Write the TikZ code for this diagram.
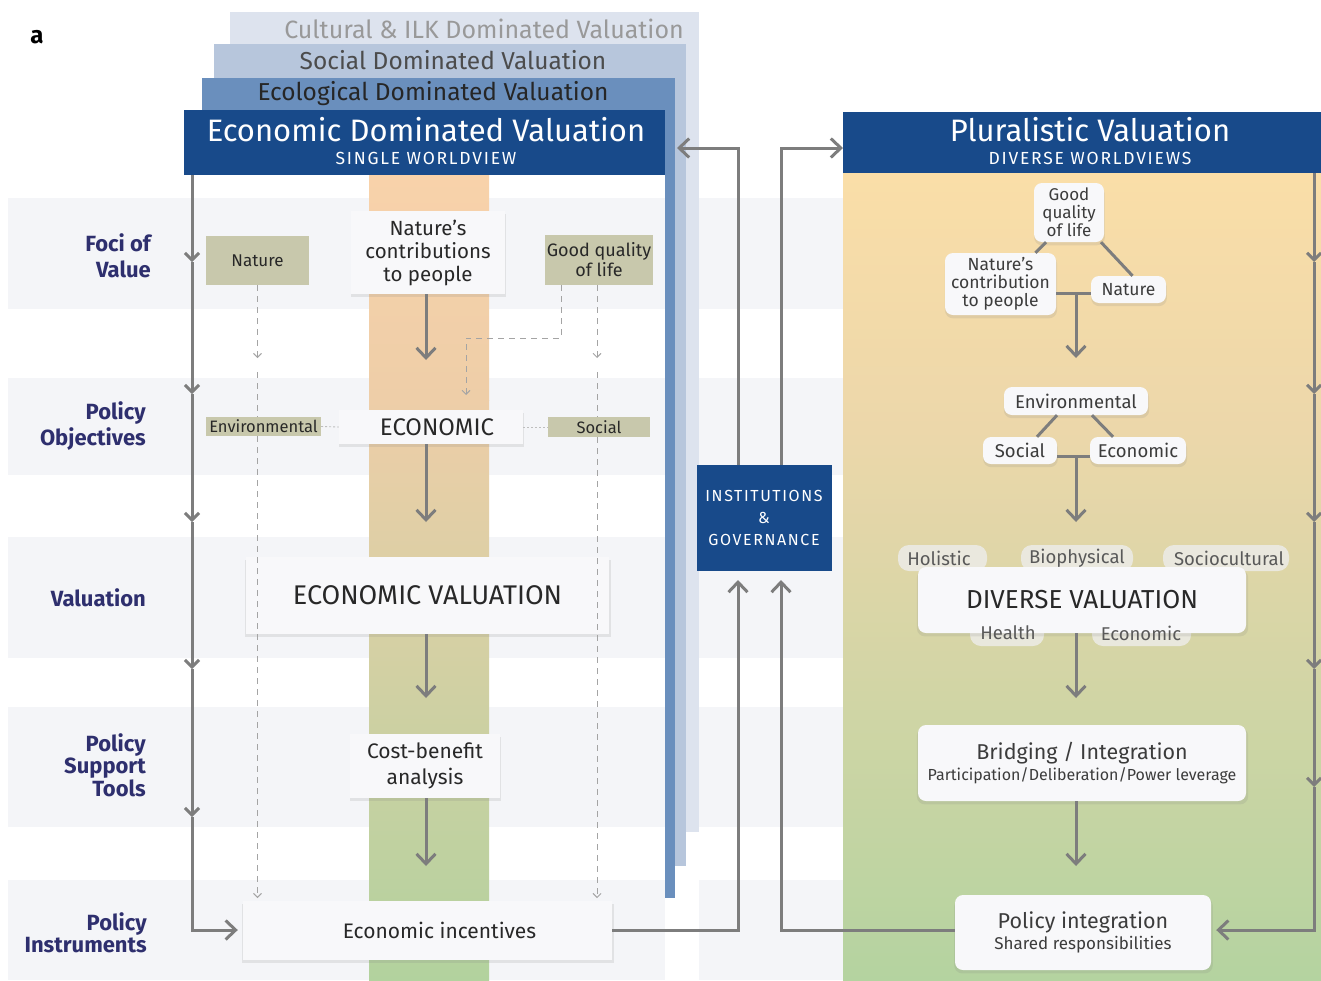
\documentclass[tikz,border=0pt]{standalone}
\usepackage{fontspec}
\setmainfont{Fira Sans}
\newfontfamily\spfont[LetterSpace=10]{Fira Sans}
\usetikzlibrary{arrows.meta,shadows}
\definecolor{navy}{RGB}{24,74,138}
\definecolor{ecostripe}{RGB}{106,143,189}
\definecolor{socstripe}{RGB}{183,198,220}
\definecolor{culstripe}{RGB}{221,227,238}
\definecolor{lgray}{RGB}{125,125,125}
\definecolor{khaki}{RGB}{200,200,172}
\definecolor{labnavy}{RGB}{46,47,110}
\definecolor{band}{RGB}{244,245,248}
\definecolor{boxwhite}{RGB}{248,248,250}
\definecolor{txt}{RGB}{40,40,40}
\definecolor{rtxt}{RGB}{60,60,60}
\definecolor{orangetop}{RGB}{248,210,170}
\definecolor{orangemid}{RGB}{238,206,168}
\definecolor{beige}{RGB}{212,206,172}
\definecolor{greenbot}{RGB}{178,210,158}
\definecolor{ytop}{RGB}{250,222,168}
\definecolor{ymid}{RGB}{236,215,170}
\definecolor{gmid}{RGB}{208,211,172}
\definecolor{gbot}{RGB}{180,211,160}
\definecolor{pillfill}{RGB}{236,235,228}
\newcommand{\fsz}[2]{\fontsize{#1}{#2}\selectfont}
\begin{document}
\begin{tikzpicture}[x=1pt,y=-1pt,
  wbox/.style={fill=boxwhite, inner sep=0pt, align=center, text=txt,
    drop shadow={opacity=0.16, shadow xshift=0.5pt, shadow yshift=-3pt, shadow scale=1.01}},
  kbox/.style={fill=khaki, inner sep=0pt, align=center, text=txt},
  rbox/.style={wbox, rounded corners=8pt, text=rtxt},
  pilltxt/.style={inner sep=0pt, text=rtxt!85!white, font=\fsz{18.5}{20}},
  conn/.style={draw=lgray, line width=3pt},
  dsh/.style={draw=lgray!70, line width=0.9pt, dash pattern=on 6pt off 5pt},
  dot/.style={draw=lgray!50, line width=0.9pt, dash pattern=on 2pt off 2pt},
  bigtip/.tip={Straight Barb[length=10pt,width=19pt]},
  edgetip/.tip={Straight Barb[length=7pt,width=14pt]},
  smalltip/.tip={Straight Barb[length=4pt,width=8pt]},
  lab/.style={align=right, anchor=east, text=labnavy, inner sep=0pt, font=\bfseries\fsz{22}{26}}
]
\useasboundingbox (0,0) rectangle (1321,980);
\fill[white] (0,0) rectangle (1321,980);

% stacked valuations
\fill[culstripe] (230,12) rectangle (699,832);
\fill[socstripe] (214,44) rectangle (686,866);
\fill[ecostripe] (202,78) rectangle (675,898);
\fill[navy] (184,110) rectangle (665,175);
\fill[white] (184,175) rectangle (665,980);

% bands
\foreach \a/\b in {198/309, 378/475, 537/658, 707/827, 880/980}{
  \fill[band] (8,\a) rectangle (665,\b);
  \fill[band] (699,\a) rectangle (843,\b);
}

% centre column
\shade[top color=orangetop, bottom color=orangemid] (369,175) rectangle (489,400);
\shade[top color=orangemid, middle color=beige, bottom color=greenbot] (369,400) rectangle (489,980);

% right panel
\shade[top color=ytop, bottom color=ymid] (843,173) rectangle (1321,430);
\shade[top color=ymid, middle color=gmid, bottom color=gbot] (843,430) rectangle (1321,980);
\fill[navy] (843,112) rectangle (1321,173);

% header texts
\node[text=black!40, inner sep=0pt, font=\fsz{25}{28}] (tCul) at (484,29) {Cultural \& ILK Dominated Valuation};
\node[text=black!70, inner sep=0pt, font=\fsz{24.5}{28}] (tSoc) at (453,60) {Social Dominated Valuation};
\node[text=black!85, inner sep=0pt, font=\fsz{24.5}{28}] (tEco) at (433,94) {Ecological Dominated Valuation};
\node[text=white, inner sep=0pt, font=\fsz{31}{34}] (tEcon) at (426,130) {Economic Dominated Valuation};
\node[text=white, inner sep=0pt, font=\spfont\fsz{17.5}{20}] (tSingle) at (426,158) {SINGLE WORLDVIEW};
\node[text=white, inner sep=0pt, font=\fsz{31}{34}] (tPlur) at (1090,130) {Pluralistic Valuation};
\node[text=white, inner sep=0pt, font=\spfont\fsz{17.5}{20}] (tDiv) at (1090,158) {DIVERSE WORLDVIEWS};

\node[inner sep=0pt, font=\bfseries\fsz{24}{26}] (tA) at (37,37) {a};

% row labels
\node[lab] (lFoci) at (151,256) {Foci of\\Value};
\node[lab] (lPO) at (146,426) {Policy\\Objectives};
\node[lab] (lVal) at (146,598) {Valuation};
\node[lab, font=\bfseries\fsz{22}{22.5}] (lPST) at (146,765) {Policy\\Support\\Tools};
\node[lab, font=\bfseries\fsz{22}{22}] (lPI) at (147,933) {Policy\\Instruments};

% left column nodes
\node[kbox, minimum width=103pt, minimum height=49pt, font=\fsz{17}{19}] (eNat) at (257.5,260.5) {Nature};
\node[wbox, minimum width=154pt, minimum height=83pt, font=\fsz{20.5}{23}] (eNCP) at (428,252.5) {Nature’s\\contributions\\to people};
\node[kbox, minimum width=108pt, minimum height=50pt, font=\fsz{18}{20}] (eGQL) at (599,260) {Good quality\\of life};
\node[kbox, minimum width=115pt, minimum height=19pt, font=\fsz{16.5}{18}] (eEnv) at (263.5,426.5) {Environmental};
\node[wbox, minimum width=184pt, minimum height=34pt, font=\fsz{24}{26}] (eECON) at (431,427) {\hspace*{12pt}ECONOMIC};
\node[kbox, minimum width=102pt, minimum height=20pt, font=\fsz{16.5}{18}] (eSoc) at (599,427) {Social};
\node[wbox, minimum width=363pt, minimum height=77pt, font=\fsz{27}{30}] (eVal) at (427.5,595.5) {ECONOMIC VALUATION};
\node[wbox, minimum width=150pt, minimum height=64pt, font=\fsz{21}{26}] (eCBA) at (425,766) {Cost-benefit\\analysis};
\node[wbox, minimum width=369pt, minimum height=59pt, font=\fsz{21}{24}] (eInc) at (427.5,930.5) {\hspace*{24pt}Economic incentives};

% institutions
\node[fill=navy, text=white, inner sep=0pt, minimum width=135pt, minimum height=106pt, align=center, font=\spfont\fsz{16}{22}] (inst) at (764,518) {INSTITUTIONS\\\&\\GOVERNANCE};

% right column nodes
\node[rbox, minimum width=70pt, minimum height=59pt, font=\fsz{17}{18}] (rGQL) at (1069,212.5) {Good\\quality\\of life};
\node[rbox, minimum width=111pt, minimum height=62pt, font=\fsz{17.5}{18}] (rNCP) at (1000.5,284) {Nature’s\\contribution\\to people};
\node[rbox, minimum width=75pt, minimum height=27pt, font=\fsz{17.5}{18}] (rNat) at (1128.5,289.5) {Nature};
\node[rbox, minimum width=144pt, minimum height=28pt, font=\fsz{18.5}{20}] (rEnv) at (1076,401) {Environmental};
\node[rbox, minimum width=74pt, minimum height=27pt, font=\fsz{18.5}{20}] (rSoc) at (1020,450.5) {Social};
\node[rbox, minimum width=96pt, minimum height=27pt, font=\fsz{18.5}{20}] (rEco) at (1138,450.5) {Economic};

\fill[pillfill, opacity=0.9, rounded corners=11pt] (898,545) rectangle (987,571);
\fill[pillfill, opacity=0.9, rounded corners=11pt] (1021,545) rectangle (1133,571);
\fill[pillfill, opacity=0.9, rounded corners=11pt] (1163,545) rectangle (1289,571);
\fill[pillfill, opacity=0.9, rounded corners=11pt] (970,620) rectangle (1044,646);
\fill[pillfill, opacity=0.9, rounded corners=11pt] (1092,620) rectangle (1191,646);
\node[rbox, minimum width=328pt, minimum height=66pt, font=\fsz{26}{28}, text=txt] (rDV) at (1082,600) {DIVERSE VALUATION};
\node[pilltxt] (pHol) at (939,558) {Holistic};
\node[pilltxt] (pBio) at (1077,558) {Biophysical};
\node[pilltxt] (pSoc) at (1229,558) {Sociocultural};
\node[pilltxt] (pHea) at (1008,633) {Health};
\node[pilltxt] (pEco) at (1141,633) {Economic};

\node[rbox, minimum width=328pt, minimum height=76pt] (rBri) at (1082,763) {{\fsz{21.5}{24}Bridging / Integration}\\[2pt]{\fsz{16}{18}Participation/Deliberation/Power leverage}};
\node[rbox, minimum width=256pt, minimum height=75pt] (rPol) at (1083,932.5) {{\fsz{21.5}{24}Policy integration}\\[2pt]{\fsz{17}{18}Shared responsibilities}};

% ---------- connectors ----------
\coordinate (a1) at (426,360);
\coordinate (a2) at (426,522);
\coordinate (a3) at (426,698);
\coordinate (a4) at (426,866);
\draw[conn,-bigtip] (eNCP.south -| a1) -- (a1);
\draw[conn,-bigtip] (eECON.south -| a2) -- (a2);
\draw[conn,-bigtip] (eVal.south -| a3) -- (a3);
\draw[conn,-bigtip] (eCBA.south -| a4) -- (a4);

% left edge line
\coordinate (L0) at (192,175);
\coordinate (L1) at (192,262);
\coordinate (L2) at (192,394);
\coordinate (L3) at (192,522);
\coordinate (L4) at (192,669);
\coordinate (L5) at (192,817);
\coordinate (L6) at (192,930);
\draw[conn,-edgetip] (L0) -- (L1);
\draw[conn,-edgetip] (L1) -- (L2);
\draw[conn,-edgetip] (L2) -- (L3);
\draw[conn,-edgetip] (L3) -- (L4);
\draw[conn,-edgetip] (L4) -- (L5);
\draw[conn,-bigtip] (L5) -- (L6) -- ([xshift=-5pt]eInc.west |- L6);

% dashed lines
\coordinate (dn1) at (257.5,358);
\coordinate (dn2) at (257.5,372);
\coordinate (dn3) at (257.5,898);
\draw[dsh,-smalltip] (eNat.south) -- (dn1);
\draw[dsh] (dn2) -- (eEnv.north -| dn2);
\draw[dsh,-smalltip] (eEnv.south -| dn2) -- (dn3);
\coordinate (dr1) at (597,358);
\coordinate (dr2) at (597,372);
\coordinate (dr3) at (597,898);
\draw[dsh,-smalltip] (eGQL.south -| dr1) -- (dr1);
\draw[dsh] (dr2) -- (eSoc.north -| dr2);
\draw[dsh,-smalltip] (eSoc.south -| dr2) -- (dr3);
\coordinate (dm0) at (561,338);
\coordinate (dm1) at (466,338);
\coordinate (dm2) at (466,395);
\draw[dsh,-smalltip] (eGQL.south -| dm0) -- (dm0) -- (dm1) -- (dm2);
\draw[dot] (eEnv.east) -- (eECON.west);
\draw[dot] (eECON.east) -- (eSoc.west);

% institutions connectors
\coordinate (c1) at (738,930);
\coordinate (c2) at (781,930);
\coordinate (ib1) at (738,580);
\coordinate (ib2) at (781,580);
\coordinate (tp1) at (738,148);
\coordinate (tp2) at (781,148);
\coordinate (t1) at (677,148);
\coordinate (t2) at (843,148);
\draw[conn,-bigtip] (eInc.east |- c1) -- (c1) -- (ib1);
\draw[conn,-bigtip] (inst.north -| tp1) -- (tp1) -- (t1);
\draw[conn,-bigtip] (rPol.west |- c2) -- (c2) -- (ib2);
\draw[conn,-bigtip] (inst.north -| tp2) -- (tp2) -- (t2);

% right edge line
\coordinate (R0) at (1314,173);
\coordinate (R1) at (1314,262);
\coordinate (R2) at (1314,394);
\coordinate (R3) at (1314,522);
\coordinate (R4) at (1314,669);
\coordinate (R5) at (1314,787);
\coordinate (R6) at (1314,930);
\draw[conn,-edgetip] (R0) -- (R1);
\draw[conn,-edgetip] (R1) -- (R2);
\draw[conn,-edgetip] (R2) -- (R3);
\draw[conn,-edgetip] (R3) -- (R4);
\draw[conn,-edgetip] (R4) -- (R5);
\draw[conn,-bigtip] (R5) -- (R6) -- ([xshift=5pt]rPol.east |- R6);

% right column connectors
\coordinate (j1) at (1076,293);
\coordinate (a5) at (1076,358);
\draw[conn] ([xshift=-23pt]rGQL.south) -- ([xshift=35pt]rNCP.north);
\draw[conn] ([xshift=32pt]rGQL.south) -- ([xshift=4pt]rNat.north);
\draw[conn] (rNCP.east |- j1) -- (rNat.west |- j1);
\draw[conn,-bigtip] (j1) -- (a5);
\coordinate (j2) at (1076,456);
\coordinate (a6) at (1076,522);
\draw[conn] ([xshift=-19pt]rEnv.south) -- ([xshift=17pt]rSoc.north);
\draw[conn] ([xshift=16pt]rEnv.south) -- ([xshift=-25pt]rEco.north);
\draw[conn] (rSoc.east |- j2) -- (rEco.west |- j2);
\draw[conn,-bigtip] (j2) -- (a6);
\coordinate (a7) at (1076,698);
\coordinate (a8) at (1076,866);
\draw[conn,-bigtip] (rDV.south -| a7) -- (a7);
\draw[conn,-bigtip] (rBri.south -| a8) -- (a8);
\end{tikzpicture}
\end{document}
